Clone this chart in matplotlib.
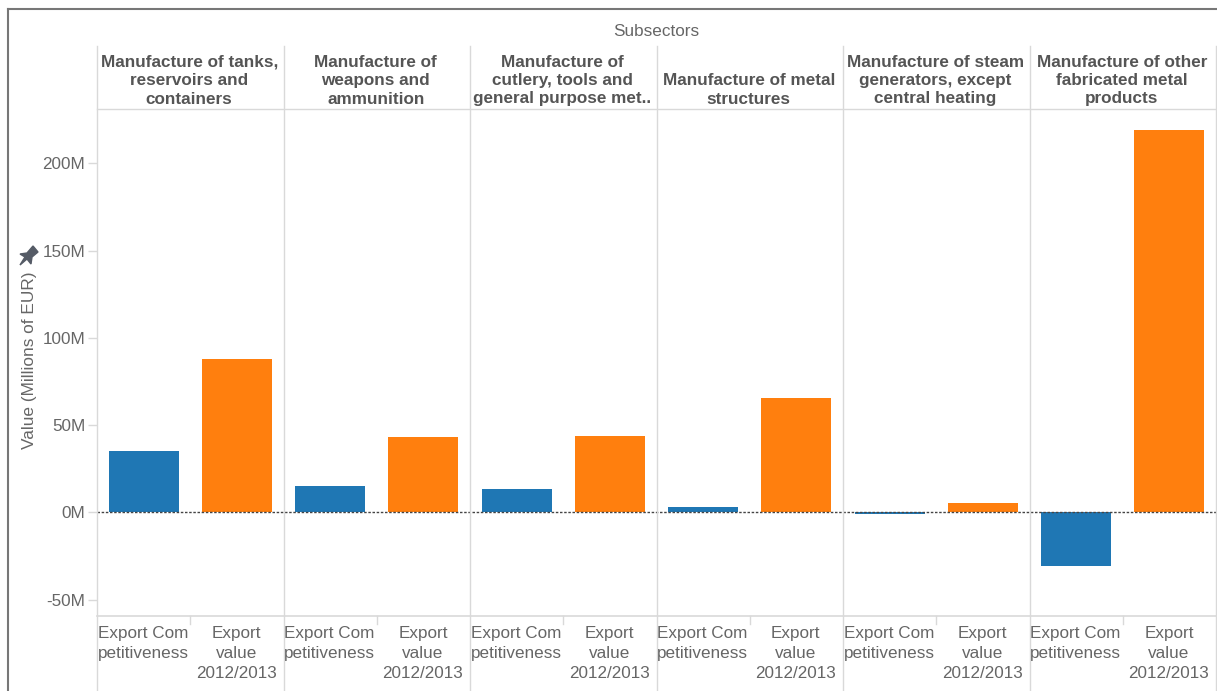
import matplotlib
matplotlib.use('Agg')
import matplotlib.pyplot as plt
from matplotlib.lines import Line2D
from matplotlib.patches import Polygon

W, H = 1217, 691
plt.rcParams['font.family'] = ['Liberation Sans', 'DejaVu Sans']

subsectors = ['Manufacture of tanks,\nreservoirs and\ncontainers',
              'Manufacture of\nweapons and\nammunition',
              'Manufacture of\ncutlery, tools and\ngeneral purpose met..',
              'Manufacture of metal\nstructures',
              'Manufacture of steam\ngenerators, except\ncentral heating',
              'Manufacture of other\nfabricated metal\nproducts']
measure_labels = ['Export Com\npetitiveness', 'Export\nvalue\n2012/2013']
export_comp = [35, 15.2, 13.5, 2.9, -0.8, -30.7]
export_value = [88, 43.3, 43.8, 65.6, 5.5, 218.9]
yticks = [-50, 0, 50, 100, 150, 200]
yticklabels = ['-50M', '0M', '50M', '100M', '150M', '200M']

GRID = '#d9d9d9'
TEXT = '#666666'
HEAD = '#555555'
BLUE = '#1f77b4'
ORANGE = '#ff7f0e'

# plot area in pixels of the image
LEFT, RIGHT, TOP, BOTTOM = 97, 1216, 109, 616
HEAD_TOP = 46
AX_BOTTOM = 691


def fx(px):
    return px / W


def fy(py):
    return 1 - py / H


fig = plt.figure(figsize=(W / 100, H / 100), dpi=100, facecolor='white')
ax = fig.add_axes([fx(LEFT), fy(BOTTOM), fx(RIGHT - LEFT), (BOTTOM - TOP) / H])

n = len(subsectors)
for i in range(n):
    ax.bar(2 * i, export_comp[i], width=0.75, color=BLUE, zorder=2)
    ax.bar(2 * i + 1, export_value[i], width=0.75, color=ORANGE, zorder=2)

ax.axhline(0, color='#444444', lw=1, ls=(0, (1.8, 1.2)), zorder=3)
ax.set_xlim(-0.5, 2 * n - 0.5)
ax.set_ylim(-59.4, 231.1)
ax.set_yticks(yticks)
ax.set_yticklabels(yticklabels, fontsize=12.3, color=TEXT)
ax.tick_params(axis='y', length=6.5, width=1, color=GRID, pad=2)
ax.set_xticks([])
for s in ['top', 'right', 'left']:
    ax.spines[s].set_visible(False)
ax.spines['bottom'].set_color(GRID)
ax.spines['bottom'].set_linewidth(1.2)


def add_line(xs, ys, color=GRID, lw=1.0):
    fig.add_artist(Line2D([fx(x) for x in xs], [fy(y) for y in ys], color=color, lw=lw))


# outer frame of the view
add_line([8, 8], [9, H], color='#777777', lw=1.5)
add_line([8, W], [9, 9], color='#777777', lw=1.5)

panel_w = (RIGHT - LEFT) / n
add_line([LEFT, RIGHT], [TOP, TOP])
for i in range(n + 1):
    x = LEFT + i * panel_w
    add_line([x, x], [HEAD_TOP, AX_BOTTOM])

for i in range(n):
    x0 = LEFT + i * panel_w
    cx = x0 + panel_w / 2
    fig.text(fx(cx - 1), fy(106.5), subsectors[i], ha='center', va='bottom', fontsize=12.3,
             fontweight='bold', color=HEAD, linespacing=1.28)
    add_line([cx, cx], [BOTTOM, 624])
    for j, lab in enumerate(measure_labels):
        lx = x0 + panel_w * (0.25 + 0.5 * j)
        fig.text(fx(lx - 0.5), fy(626), lab, ha='center', va='top', fontsize=12.3, color=TEXT,
                 linespacing=1.4)

fig.text(fx(656.5), fy(31), 'Subsectors', ha='center', va='center', fontsize=12.3, color=TEXT)
fig.text(fx(30), fy(360), 'Value (Millions of EUR)', rotation=90, ha='center', va='center',
         fontsize=12.4, color=TEXT)

# pin icon beside the axis title
pin = [(20, 254), (27, 253), (33, 246), (38, 252), (32, 257), (31, 264), (27, 259), (20, 265), (25, 257)]
fig.add_artist(Polygon([(fx(x), fy(y)) for x, y in pin], closed=True, color='#555b66',
                       transform=fig.transFigure))

fig.savefig('out.png', dpi=100)
